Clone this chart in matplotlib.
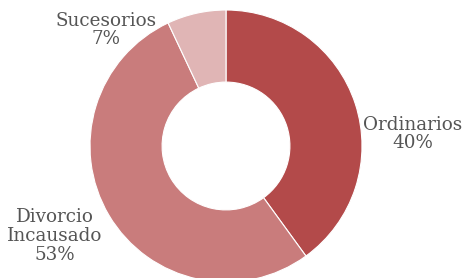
import matplotlib.pyplot as plt

labels = ['Ordinarios', 'Divorcio\nIncausado', 'Sucesorios']
values = [40, 53, 7]
colors = ['#B34A4A', '#C97C7C', '#E0B5B5']

W, H = 470, 278
cx, cy, r = 226, 146, 136   # pixel centre (from top) and radius

fig = plt.figure(figsize=(W / 100, H / 100), dpi=100)
ax = fig.add_axes([0, 0, 1, 1])
ax.pie(values, colors=colors, startangle=90, counterclock=False, radius=1,
       wedgeprops=dict(width=0.53, edgecolor='white', linewidth=0.8))
ax.set_xlim(-cx / r, (W - cx) / r)
ax.set_ylim(-(H - cy) / r, cy / r)
ax.set_aspect('equal')
ax.axis('off')

# label positions in pixels (x, y from top)
label_pos = [(413, 134), (55, 236), (106, 30)]
for lab, v, (px, py) in zip(labels, values, label_pos):
    fig.text(px / W, 1 - py / H, f'{lab}\n{v}%', ha='center', va='center',
             fontsize=13.2, family='DejaVu Serif', color='#555555',
             linespacing=1.05)

fig.savefig('out.png', dpi=100)
